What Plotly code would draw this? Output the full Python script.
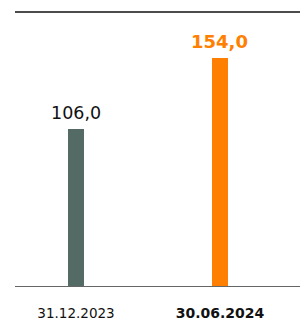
import plotly.graph_objects as go

categories = ["31.12.2023", "30.06.2024"]
values = [106.0, 154.0]
tick_labels = ["31.12.2023", "<b><span style='font-size:14px'>30.06.2024</span></b>"]
bar_colors = ["#536B64", "#FF8000"]
text_colors = ["#111111", "#FF8000"]
text_bold = [False, True]

FONT = "DejaVu Sans"

fig = go.Figure(go.Bar(
    x=categories, y=values,
    marker=dict(color=bar_colors, line=dict(width=0)),
    width=0.111,
    hoverinfo="skip",
))

for cat, val, col, bold in zip(categories, values, text_colors, text_bold):
    label = f"{val:.1f}".replace(".", ",")
    if bold:
        label = f"<b>{label}</b>"
    fig.add_annotation(
        x=cat, y=val, xref="x", yref="y", text=label, showarrow=False,
        yanchor="bottom", xanchor="center", yshift=4,
        font=dict(family=FONT, size=17.5 if not bold else 18, color=col),
    )

fig.update_layout(
    width=300, height=320,
    margin=dict(l=15, r=0, t=12, b=34),
    paper_bgcolor="white", plot_bgcolor="white",
    showlegend=False,
    font=dict(family=FONT, color="#111111"),
    shapes=[dict(type="line", xref="paper", yref="paper", x0=0, x1=1, y0=1, y1=1,
                 line=dict(color="#111111", width=1.5))],
)
fig.update_xaxes(
    type="category", range=[-0.4236, 1.5556],
    tickvals=categories, ticktext=tick_labels,
    tickfont=dict(family=FONT, size=13.5, color="#111111"),
    showline=True, linecolor="#666666", linewidth=1,
    showgrid=False, zeroline=False, ticks="",
    ticklabelstandoff=15,
)
fig.update_yaxes(range=[0, 185], visible=False, showgrid=False, zeroline=False)

fig.write_html("out.html", config={"displayModeBar": False},
               post_script="document.body.style.margin='0';document.body.style.overflow='hidden';")
